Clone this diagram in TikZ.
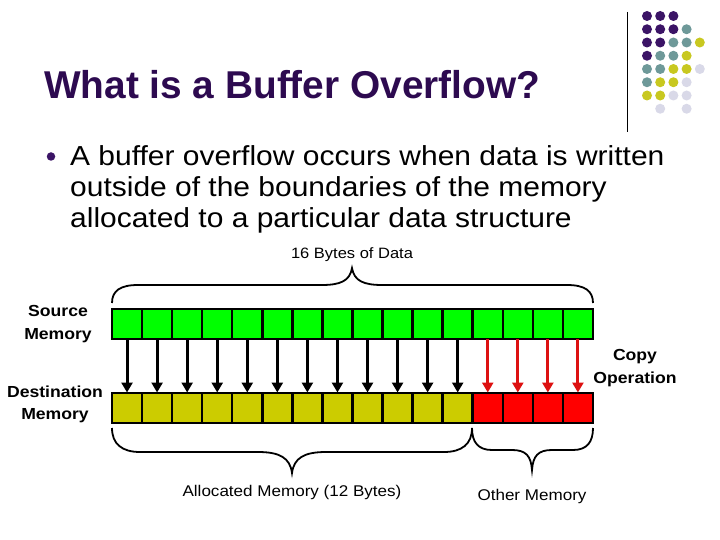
\documentclass[tikz,border=0pt]{standalone}
\usepackage{fontspec}
\setmainfont{Liberation Sans}
\newfontfamily\titlefont{Liberation Sans}
\newfontfamily\bodyfont[FakeStretch=1.09]{Liberation Sans}
\newfontfamily\labfont[FakeStretch=1.1]{Liberation Sans}
\usetikzlibrary{arrows.meta}
\definecolor{ttlpurple}{HTML}{2D0A50}
\definecolor{dotP}{HTML}{3B1466}
\definecolor{dotT}{HTML}{6E9999}
\definecolor{dotY}{HTML}{C8C820}
\definecolor{dotL}{HTML}{D9D9E8}
\definecolor{srcgreen}{HTML}{00FF00}
\definecolor{dstolive}{HTML}{CCCC00}
\definecolor{dstred}{HTML}{FF0000}
\definecolor{arrred}{HTML}{DD1111}
\tikzset{
  cell/.style={draw=black, line width=2.5bp, minimum width=30.06bp, minimum height=30bp, inner sep=0pt, outer sep=0pt},
  arr/.style={line width=3bp, -{Triangle[width=11bp,length=10bp]}, shorten >=0.5bp},
  brace/.style={line width=1.8bp, black},
  lab/.style={font=\labfont\fontsize{15.5bp}{21.5bp}\selectfont, inner sep=0pt},
  labb/.style={font=\labfont\bfseries\fontsize{16bp}{22.5bp}\selectfont, inner sep=0pt, align=center},
  dot/.style={circle, inner sep=0pt, minimum size=10bp},
}
\begin{document}
\begin{tikzpicture}[x=1bp,y=-1bp]
\useasboundingbox (0,0) rectangle (720,540);
\fill[white] (0,0) rectangle (720,540);
% decoration
\draw[line width=1bp] (627,12) -- (627,132);
\foreach \r/\k/\c in {0/0/P,0/1/P,0/2/P,
  1/0/P,1/1/P,1/2/P,1/3/T,
  2/0/P,2/1/P,2/2/T,2/3/T,2/4/Y,
  3/0/P,3/1/T,3/2/T,3/3/Y,
  4/0/T,4/1/T,4/2/Y,4/3/Y,4/4/L,
  5/0/T,5/1/Y,5/2/Y,5/3/L,
  6/0/Y,6/1/Y,6/2/L,6/3/L,
  7/1/L,7/3/L} {
  \node[dot, fill=dot\c] (dot-\r-\k) at ({647+13.2*\k},{16+13.25*\r}) {};
}
% title
\node[anchor=base west, inner sep=0pt, text=ttlpurple, font=\titlefont\bfseries\fontsize{38.8bp}{44bp}\selectfont] (title) at (44,99) {What is a Buffer Overflow?};
% bullet
\node[dot, fill=dotP, minimum size=8.5bp] (bullet) at (51,156.5) {};
\node[anchor=base west, inner sep=0pt, align=left, font=\bodyfont\fontsize{27.5bp}{31bp}\selectfont] (body) at (70,228) {A buffer overflow occurs when data is written\\outside of the boundaries of the memory\\allocated to a particular data structure};
% cells
\foreach \i in {0,...,15} {
  \node[cell, fill=srcgreen] (s\i) at ({127.03+30.06*\i},324) {};
}
\foreach \i in {0,...,11} {
  \node[cell, fill=dstolive] (d\i) at ({127.03+30.06*\i},408) {};
}
\foreach \i in {12,...,15} {
  \node[cell, fill=dstred] (d\i) at ({127.03+30.06*\i},408) {};
}
\foreach \i in {0,...,11} { \draw[arr, black] (s\i.south) -- (d\i.north); }
\foreach \i in {12,...,15} { \draw[arr, arrred] (s\i.south) -- (d\i.north); }
% labels
\node[labb] (srclab) at (58,324) {Source\\Memory};
\node[labb] (dstlab) at (55,404.5) {Destination\\Memory};
\node[labb] (copylab) at (635,368) {Copy\\Operation};
\node[lab, anchor=base, font=\labfont\fontsize{15bp}{18bp}\selectfont] (toplab) at (352,258.5) {16 Bytes of Data};
\node[lab, anchor=base] (alloclab) at (292,496) {Allocated Memory (12 Bytes)};
\node[lab, anchor=base] (otherlab) at (532,500) {Other Memory};
% braces
\draw[brace] (112,303) .. controls (112,291) and (120,285) .. (138,285) -- (322,285)
  .. controls (340,285) and (350,281) .. (352,268)
  .. controls (354,281) and (364,285) .. (382,285) -- (567,285)
  .. controls (585,285) and (593,291) .. (593,303);
\draw[brace] (112,428) .. controls (112,444) and (122,452) .. (140,452) -- (258,452)
  .. controls (280,452) and (290,458) .. (292,473)
  .. controls (294,458) and (304,452) .. (326,452) -- (444,452)
  .. controls (462,452) and (472,444) .. (472,428);
\draw[brace] (472,428) .. controls (472,442) and (478,450) .. (492,450) -- (512,450)
  .. controls (526,450) and (531,456) .. (532,470)
  .. controls (533,456) and (538,450) .. (552,450) -- (573,450)
  .. controls (587,450) and (593,442) .. (593,428);
\end{tikzpicture}
\end{document}
